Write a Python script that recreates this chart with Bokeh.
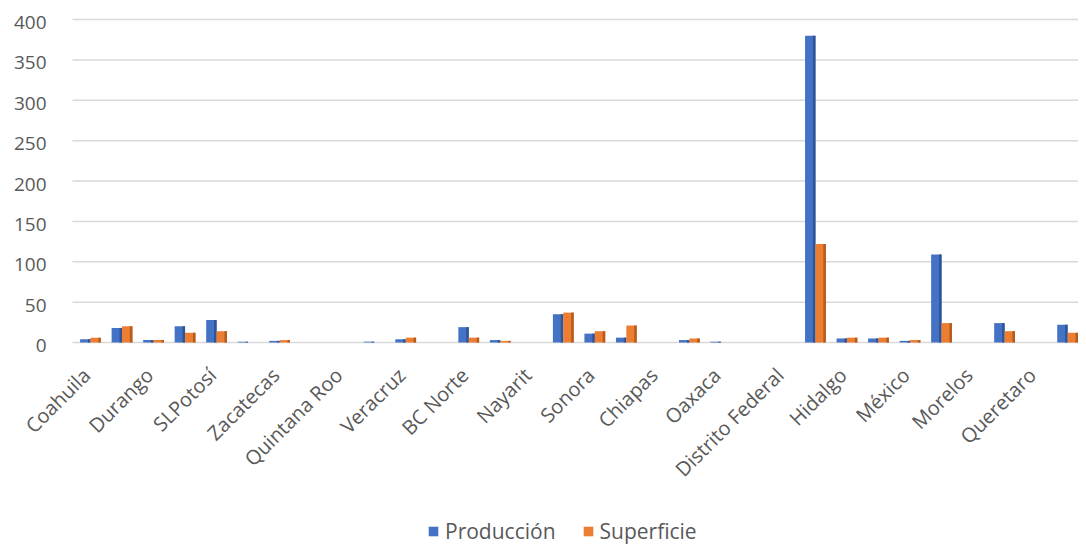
import numpy as np
from bokeh.plotting import figure
from bokeh.models import ColumnDataSource, Legend, LegendItem, Range1d
from bokeh.core.properties import value
from bokeh.embed import file_html
from bokeh.resources import INLINE

# 32 categories; only every other one carries a visible label in the reference
categorias = ["Coahuila", "", "Durango", "", "SLPotosí", "", "Zacatecas", "",
              "Quintana Roo", "", "Veracruz", "", "BC Norte", "", "Nayarit", "",
              "Sonora", "", "Chiapas", "", "Oaxaca", "", "Distrito Federal", "",
              "Hidalgo", "", "México", "", "Morelos", "", "Queretaro", ""]
produccion = [4, 18, 3, 20, 28, 1, 2, 0, 0, 1, 4, 0, 19, 3, 0, 35,
              11, 6, 0, 3, 1, 0, 0, 380, 5, 5, 2, 109, 0, 24, 0, 22]
superficie = [6, 20, 3, 12, 14, 0, 3, 0, 0, 0, 6, 0, 6, 2, 0, 37,
              14, 21, 0, 5, 0, 0, 0, 122, 6, 6, 3, 24, 0, 14, 0, 12]
series = ["Producción", "Superficie"]
y_ticks = [0, 50, 100, 150, 200, 250, 300, 350, 400]

FONT = "Open Sans"
GREY = "#595959"
BLUE, BLUE_D = "#4472C4", "#2F5597"
ORANGE, ORANGE_D = "#ED7D31", "#B55D1F"

# ---- layout (pixels of the figure canvas) ----
W, H = 1078, 546
PLOT_LEFT = 72           # where the plot area (gridlines) starts
FIRST_CAT_PX = 90        # centre of the first category
PX_PER_CAT = 31.52
TOP_PX, ZERO_PX = 19, 342  # rows of the values 400 and 0
py = (ZERO_PX - TOP_PX) / 400.0

x_start = 1 - FIRST_CAT_PX / PX_PER_CAT
x_end = x_start + W / PX_PER_CAT
x_grid0 = x_start + PLOT_LEFT / PX_PER_CAT
y_end = 400 + TOP_PX / py
y_start = -(H - ZERO_PX) / py

x = np.arange(1, len(categorias) + 1, dtype=float)
bw = 0.33
side = 0.08

src = ColumnDataSource(dict(
    xb=x - bw / 2, xo=x + bw / 2,
    xbs=x - side / 2, xos=x + bw - side / 2,
    prod=produccion, sup=superficie,
))

lab_x = [i + 1 for i, c in enumerate(categorias) if c]
lab_t = [c for c in categorias if c]
lab_src = ColumnDataSource(dict(x=lab_x, y=[0] * len(lab_x), t=lab_t))

grid_src = ColumnDataSource(dict(
    x0=[x_grid0] * len(y_ticks), x1=[x_end] * len(y_ticks),
    y=y_ticks, t=[str(v) for v in y_ticks],
))

p = figure(width=W, height=H, output_backend="svg", toolbar_location=None,
           x_range=Range1d(x_start, x_end), y_range=Range1d(y_start, y_end),
           x_axis_location=None, y_axis_location=None,
           min_border=0)
p.outline_line_color = None
p.background_fill_color = "white"
p.xgrid.visible = False
p.ygrid.visible = False

# horizontal gridlines + value labels
p.segment(x0="x0", x1="x1", y0="y", y1="y", source=grid_src,
          line_color="#D9D9D9", line_width=1.5)
p.text(x="x0", y="y", text="t", source=grid_src, x_offset=-26, y_offset=3,
       text_align="right", text_baseline="middle",
       text_font=value(FONT), text_font_size="19px", text_color=GREY)

# bars with a darker side face
r1 = p.vbar(x="xb", top="prod", width=bw, source=src, fill_color=BLUE, line_color=None)
p.vbar(x="xbs", top="prod", width=side, source=src, fill_color=BLUE_D, line_color=None)
r2 = p.vbar(x="xo", top="sup", width=bw, source=src, fill_color=ORANGE, line_color=None)
p.vbar(x="xos", top="sup", width=side, source=src, fill_color=ORANGE_D, line_color=None)

# rotated category labels
p.text(x="x", y="y", text="t", source=lab_src, angle=np.pi / 4,
       text_align="right", text_baseline="middle", x_offset=-4, y_offset=29,
       text_font=value(FONT), text_font_size="20px", text_color=GREY)

legend = Legend(items=[LegendItem(label=series[0], renderers=[r1]),
                       LegendItem(label=series[1], renderers=[r2])],
                location=(427, 1), orientation="horizontal",
                border_line_color=None, background_fill_alpha=0,
                padding=0, margin=0, spacing=26, label_standoff=6,
                glyph_width=12, glyph_height=12, label_height=20,
                label_text_font=FONT, label_text_font_size="21px",
                label_text_color=GREY)
p.add_layout(legend, "center")

open("out.html", "w").write(file_html(p, INLINE))
